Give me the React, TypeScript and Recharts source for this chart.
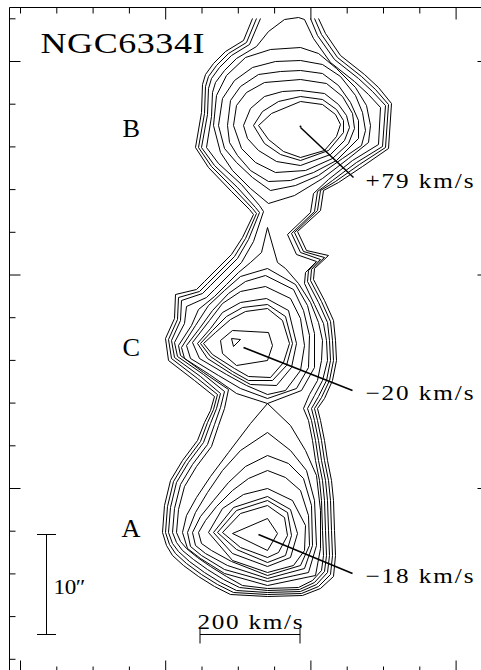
import React from 'react';
import { ScatterChart, Scatter, XAxis, YAxis } from 'recharts';

// Position–velocity contour map of NGC6334I.
// x: velocity (km/s), y: offset along the slit (arcsec).
type P = [number, number];

const xTicks = [-480, -407.4, -334.8, -262.2, -189.6, -117, -44.4, 28.2, 100.8, 173.4, 246, 318.6, 391.2];
const xMajorBottom = [-480, -189.6, 100.8, 391.2];
const xMajorTop = [-189.6, 100.8, 391.2];
const yTicks = [58.17, 53.9, 49.63, 45.36, 41.09, 36.82, 32.55, 28.28, 24.01, 19.74, 15.47, 11.2, 6.93, 2.66, -1.61, -5.88];
const yMajor = [53.9, 32.55, 11.2];

// Outer envelope contours (open where they leave the map at the top)
const envelope1: P[] = [[-16,58.2],[-34,56],[-70,54.9],[-94,53.7],[-110,52.6],[-116,51.6],[-118,48.8],[-130,45.3],[-104,43.3],[-58,40.9],[-22,39.1],[-14,38.6],[-36,36.3],[-58,34.6],[-112,31.9],[-128,31.1],[-170,30.6],[-172,28.2],[-190,26.2],[-184,24],[-132,22],[-92,20.4],[-100,19],[-112,17.8],[-126,16],[-156,14],[-180,12],[-192,9.5],[-196,6.8],[-188,5.5],[-176,4.5],[-154,3.5],[-124,2.4],[-92,1.4],[-60,0.6],[14,0.4],[84,0.5],[120,1.2],[146,2.4],[150,4.5],[148,7],[146,10],[142,12],[134,14],[128,16],[120,18],[114,19.2],[128,20.2],[144,22],[152,24],[150,26],[146,28],[128,30],[106,32.1],[108,33.2],[136,34.5],[92,35],[74,36.9],[120,39],[126,41],[156,41.8],[204,43.4],[256,45.2],[262,49.7],[236,51.3],[208,52.6],[160,54.5],[130,56.7],[116,58.2]];
const envelope2: P[] = [[-8,58.2],[-28,55.8],[-64,54.7],[-88,53.5],[-104,52.4],[-110,51.4],[-112,48.7],[-124,45.3],[-98,43.4],[-52,41.1],[-16,39.2],[-8,38.7],[-30,36.2],[-52,34.4],[-106,31.7],[-122,30.9],[-164,30.3],[-166,28.1],[-184,26.1],[-178,24.2],[-126,22.2],[-86,20.6],[-94,19.1],[-106,17.8],[-120,15.9],[-150,13.9],[-174,11.9],[-186,9.4],[-190,6.8],[-182,5.6],[-170,4.7],[-148,3.7],[-118,2.6],[-86,1.6],[-54,0.8],[14,0.6],[82,0.7],[116,1.4],[140,2.6],[144,4.5],[142,7],[140,10],[136,12],[128,14],[122,16],[114,18],[108,19.2],[122,20.3],[138,22],[146,24],[144,26],[140,27.9],[122,29.9],[100,32],[102,33.1],[128,34.3],[86,34.9],[68,36.8],[114,39],[120,41],[150,41.9],[198,43.6],[250,45.3],[256,49.6],[230,51.1],[202,52.4],[154,54.3],[122,56.6],[108,58.2]];
const envelope3: P[] = [[0,58.2],[-22,55.6],[-58,54.5],[-82,53.3],[-98,52.2],[-104,51.2],[-106,48.6],[-118,45.3],[-92,43.5],[-46,41.3],[-10,39.3],[-2,38.8],[-24,36.1],[-46,34.2],[-100,31.5],[-116,30.7],[-158,30],[-160,28],[-178,26],[-172,24.3],[-120,22.4],[-80,20.7],[-88,19.2],[-100,17.7],[-114,15.8],[-144,13.8],[-168,11.8],[-180,9.3],[-184,6.8],[-176,5.7],[-164,4.9],[-142,3.9],[-112,2.8],[-80,1.8],[-48,1],[14,0.8],[80,0.9],[112,1.6],[134,2.8],[138,4.5],[136,7],[134,10],[130,12],[122,14],[116,16],[108,18],[102,19.2],[116,20.4],[132,22],[140,24],[138,26],[134,27.8],[116,29.8],[94,31.9],[96,33],[120,34.1],[80,34.8],[62,36.7],[108,38.9],[114,40.9],[144,42],[192,43.8],[244,45.4],[250,49.5],[224,50.9],[196,52.2],[148,54.1],[114,56.5],[100,58.2]];
const envelope4: P[] = [[88,58.1],[76,58.3],[48,58.1],[16,56.9],[-8,55.4],[-48,54.2],[-72,53],[-90,51.8],[-96,50.8],[-98,48.4],[-108,45.3],[-84,43.7],[-38,41.6],[-2,39.5],[6,38.9],[-14,35.9],[-38,33.8],[-92,31.1],[-108,30.3],[-148,29.4],[-152,27.7],[-172,25.8],[-166,24.4],[-114,22.6],[-72,20.9],[-80,19.3],[-92,17.6],[-106,15.6],[-136,13.6],[-160,11.6],[-172,9.2],[-176,6.8],[-168,5.8],[-156,5],[-134,4.1],[-106,3.1],[-74,2.1],[-42,1.3],[14,1],[78,1.1],[108,1.8],[128,2.9],[132,4.5],[130,7],[128,10],[124,12],[116,14],[110,16],[102,18],[94,19.2],[108,20.5],[124,22],[134,24],[132,26],[126,27.7],[108,29.6],[88,31.7],[90,32.8],[112,33.9],[72,34.6],[54,36.6],[100,38.8],[106,40.7],[136,42.1],[184,44],[236,45.6],[240,49.3],[216,50.6],[188,51.9],[140,53.8],[106,56.2],[88,58.1]];

// Contour enclosing C and A, with the narrow spike towards B
const spikeLoop: P[] = [[14,37.3],[2,34.8],[-20,33.8],[-44,32.8],[-68,31.6],[-92,30.4],[-124,29.1],[-138,27.5],[-164,25.5],[-160,24.5],[-114,22.8],[-64,21.1],[-72,19.2],[-84,17.5],[-98,15.4],[-128,13.4],[-152,11.4],[-164,9.1],[-168,6.8],[-160,5.9],[-148,5.2],[-126,4.3],[-100,3.4],[-68,2.4],[-36,1.5],[14,1.2],[76,1.3],[104,2],[122,3],[126,4.5],[124,7],[122,10],[118,12],[110,14],[104,16],[96,18],[86,19.2],[98,20.6],[114,22],[122,24],[124,26],[116,27.8],[100,29.8],[76,31.7],[50,33.2],[34,33.8],[14,37.3]];

// Source B (+79 km/s)
const loopsB: P[][] = [
  [[-4,47.5],[22,48.7],[80,49.9],[124,49.6],[150,48.6],[160,47.6],[152,46.4],[128,45],[80,44.3],[46,44.9],[16,46.1],[-4,47.5]],
  [[-14,47.5],[4,48.9],[36,49.9],[80,50.4],[124,50.1],[152,49.1],[166,48],[166,46.8],[136,45],[80,44],[40,44.6],[8,45.7],[-14,47.5]],
  [[-34,47.5],[-20,49.2],[8,50.4],[44,50.9],[80,51],[128,50.7],[156,49.6],[172,48.5],[178,47.3],[168,46],[140,44.6],[80,43.5],[32,43.9],[-4,45],[-26,46.2],[-34,47.5]],
  [[-54,47.5],[-48,49.5],[-28,50.8],[8,51.8],[80,52.1],[132,51.7],[164,50.4],[184,48.7],[188,47.2],[176,45.7],[144,44.2],[90,43],[30,42.8],[-10,43.8],[-38,45.2],[-54,47.5]],
  [[-66,47.5],[-60,50],[-40,51.4],[-4,52.6],[40,52.9],[80,53],[124,52.7],[156,51.5],[180,49.8],[196,48],[196,46.2],[152,44],[106,42.8],[60,42],[16,41.9],[-20,43],[-46,44.5],[-62,45.8],[-66,47.5]],
  [[-84,47.5],[-76,50.2],[-52,52],[-16,53.3],[30,53.9],[80,54],[124,53.6],[160,52.4],[190,50.5],[204,48.8],[210,47],[202,45.5],[164,44.2],[116,42.5],[70,41.5],[20,41],[-16,42.3],[-48,43.8],[-72,45.2],[-84,47.5]],
  [[-94,47.5],[-88,50.5],[-68,52.5],[-30,54.3],[20,55.1],[80,55.3],[116,54.7],[152,53.2],[190,51.3],[212,49.5],[220,47.5],[216,45.8],[176,44.2],[124,42.2],[68,40.5],[16,39.7],[-20,41.2],[-56,43],[-80,44.8],[-94,47.5]],
];

// Source C (-20 km/s)
const loopsC: P[][] = [
  [[-58,26.2],[-40,26.1],[-54,25.4],[-58,26.2]],
  [[-80,26],[-56,27],[16,26.8],[24,25.5],[14,24],[-48,23.5],[-76,24.7],[-80,26]],
  [[-114,25.7],[-90,26.8],[-60,28.1],[-30,28.9],[14,29.2],[44,28],[58,25.7],[46,23.8],[20,22.3],[-24,22.4],[-52,23.2],[-96,24.6],[-114,25.7]],
  [[-120,25.7],[-96,27],[-68,28.4],[-36,29.3],[14,29.6],[50,28.4],[64,25.7],[52,23.5],[24,22],[-24,22],[-56,22.9],[-100,24.4],[-120,25.7]],
  [[-126,25.7],[-100,27.2],[-76,28.8],[-40,29.8],[12,30.2],[56,29],[72,25.7],[62,23.3],[32,21.5],[-20,21.6],[-56,22.6],[-106,24.2],[-126,25.7]],
  [[-136,25.8],[-102,28],[-76,29.7],[-40,30.9],[10,31.4],[60,30.2],[80,28.2],[88,25.5],[80,23],[50,21],[14,20.6],[-28,21.5],[-68,22.6],[-122,24.2],[-136,25.8]],
  [[-148,25.5],[-122,27.2],[-96,29],[-64,30.7],[-30,31.9],[10,32.5],[66,31.1],[86,29],[98,26.5],[96,23.3],[72,21.2],[14,20.2],[-40,21.2],[-84,22.5],[-140,24.2],[-148,25.5]],
  [[-158,25.3],[-130,27.5],[-104,29.5],[-72,31],[-40,32.4],[14,33.2],[70,31.6],[94,29.5],[108,26.7],[108,23.3],[82,21],[14,19.7],[-48,20.7],[-102,22.6],[-152,24.2],[-158,25.3]],
];

// Source A (-18 km/s)
const loopsA: P[][] = [
  [[-56,6.7],[14,8.2],[34,6.7],[14,5],[-56,6.7]],
  [[-76,6.8],[-40,8.7],[14,9.5],[48,8.3],[54,6.5],[36,4.8],[14,4.3],[-40,5.3],[-76,6.8]],
  [[-86,6.8],[-48,9],[14,10],[54,8.8],[62,6.5],[50,4.5],[14,3.8],[-48,5.1],[-86,6.8]],
  [[-94,6.8],[-54,9.3],[14,10.4],[60,9.1],[74,6.7],[60,4.3],[14,3.4],[-56,4.7],[-94,6.8]],
  [[-104,6.8],[-76,9.2],[-34,10.6],[14,11.2],[64,10],[90,7.5],[88,5],[66,3.5],[14,2.8],[-56,4],[-104,6.8]],
  [[-124,6.8],[-110,8],[-88,9.4],[-56,11],[-24,12.2],[14,13],[50,12.3],[80,11],[96,8.5],[98,5.5],[80,3.5],[14,2.5],[-58,3.9],[-98,5],[-118,5.7],[-124,6.8]],
  [[-136,6.8],[-120,8.4],[-94,10],[-64,11.8],[-30,13.4],[14,14.5],[56,13.7],[86,12.2],[102,9.5],[104,5.5],[88,3.2],[14,2.2],[-66,3.5],[-110,4.7],[-130,5.5],[-136,6.8]],
  [[-146,6.8],[-130,8.8],[-106,10.8],[-76,13],[-40,15],[14,16.8],[60,15],[92,13],[108,10],[112,5.5],[96,2.8],[14,1.9],[-72,3.1],[-118,4.5],[-140,5.4],[-146,6.8]],
  [[-156,6.8],[-148,8.5],[-128,10.3],[-100,12.4],[-64,14.8],[-20,17.7],[14,19.7],[60,17.5],[90,15],[112,12.5],[120,9],[120,5.2],[110,2.5],[14,1.5],[-72,2.7],[-120,4.2],[-146,5.2],[-156,6.8]],
];

const contours: P[][] = [envelope1, envelope2, envelope3, envelope4, spikeLoop, ...loopsB, ...loopsC, ...loopsA];

// Pointers from each peak to its velocity label
const pointerB: P[] = [[80, 47.3], [186, 42.3]];
const pointerC: P[] = [[-34, 25.3], [184, 21]];
const pointerA: P[] = [[-4, 6.6], [184, 2.7]];
const peakB: P[] = [[80, 47.4]];

const sourceNames = ['B', 'C', 'A'];
const sourceNameAnchors: P[] = [[-276, 46.4], [-276, 24.5], [-278, 6.4]];
const velocityLabels = ['+79 km/s', '\u221220 km/s', '\u221218 km/s'];
const velocityLabelAnchors: P[] = [[210, 41.3], [210, 20.1], [210, 1.8]];
const titleText = 'NGC6334I';
const titleAnchor: P = [-440, 54.8];

// Scale bars: 10 arcsec and 200 km/s
const offsetBar: P[] = [[-428, -3.4], [-428, 6.6]];
const offsetBarCaps: P[][] = [[[-447, 6.6], [-409, 6.6]], [[-447, -3.4], [-409, -3.4]]];
const offsetBarLabel = '10\u2033';
const offsetBarLabelAnchor: P = [-414, 0.7];
const velocityBar: P[] = [[-121, -3.4], [79, -3.4]];
const velocityBarEnds: P[][] = [[[-121, -2.8], [-121, -4.3]], [[79, -2.8], [79, -4.3]]];
const velocityBarLabel = '200 km/s';
const velocityBarLabelAnchor: P = [-126, -2.8];

const rows = (pts: P[]) => pts.map(([x, y]) => ({ x, y }));
const FONT = '"Liberation Serif", "Times New Roman", serif';
const Empty = () => <g />;

const BottomTick = (p: any) => {
  const len = xMajorBottom.includes(p.payload.value) ? 12 : 6;
  return <line x1={p.x} y1={p.y} x2={p.x} y2={p.y - len} stroke="#000" strokeWidth={1} />;
};
const TopTick = (p: any) => {
  const len = xMajorTop.includes(p.payload.value) ? 12 : 6;
  return <line x1={p.x} y1={p.y} x2={p.x} y2={p.y + len} stroke="#000" strokeWidth={1} />;
};
const LeftTick = (p: any) => {
  const len = yMajor.includes(p.payload.value) ? 11 : 6;
  return <line x1={p.x} y1={p.y} x2={p.x + len} y2={p.y} stroke="#000" strokeWidth={1} />;
};
const RightTick = (p: any) => {
  const len = yMajor.includes(p.payload.value) ? 11 : 6;
  return <line x1={p.x} y1={p.y} x2={p.x - len} y2={p.y} stroke="#000" strokeWidth={1} />;
};

const lineStyle = { stroke: '#000', strokeWidth: 1, fill: 'none' };
const pointerStyle = { stroke: '#000', strokeWidth: 1.5, fill: 'none' };

// Text drawn at a data anchor, widened horizontally by `sx`, stretched to `length` px.
function textShape(text: string, size: number, sx = 1, length?: number) {
  return (p: any) => (
    <text
      transform={`translate(${p.cx},${p.cy}) scale(${sx},1)`}
      x={0}
      y={0}
      fontFamily={FONT}
      fontSize={size}
      fill="#000"
      textLength={length ? length / sx : undefined}
      lengthAdjust={length ? 'spacing' : undefined}
    >
      {text}
    </text>
  );
}

export default function App() {
  return (
    <div style={{ position: 'absolute', left: 0, top: 0, width: 481, height: 670, overflow: 'hidden', background: '#fff' }}>
      <ScatterChart width={500} height={690} margin={{ top: 2.5, right: 6.5, bottom: 12.5, left: 4.5 }}>
        <XAxis type="number" dataKey="x" domain={[-502, 456]} allowDataOverflow ticks={xTicks} interval={0}
          height={5} tickSize={0} tickMargin={0} tickLine={false} tick={BottomTick} axisLine={{ stroke: '#000', strokeWidth: 1 }} />
        <XAxis xAxisId="top" orientation="top" type="number" dataKey="x" domain={[-502, 456]} allowDataOverflow ticks={xTicks} interval={0}
          height={5} tickSize={0} tickMargin={0} tickLine={false} tick={TopTick} axisLine={{ stroke: '#000', strokeWidth: 1 }} />
        <YAxis type="number" dataKey="y" domain={[-7.2, 59.3]} allowDataOverflow ticks={yTicks} interval={0}
          width={5} tickSize={0} tickMargin={0} tickLine={false} tick={LeftTick} axisLine={{ stroke: '#000', strokeWidth: 1 }} />
        <YAxis yAxisId="right" orientation="right" type="number" dataKey="y" domain={[-7.2, 59.3]} allowDataOverflow ticks={yTicks} interval={0}
          width={5} tickSize={0} tickMargin={0} tickLine={false} tick={RightTick} axisLine={{ stroke: '#000', strokeWidth: 1 }} />

        {contours.map((c, i) => (
          <Scatter key={`c${i}`} data={rows(c)} line={lineStyle} lineType="joint" shape={Empty} isAnimationActive={false} />
        ))}

        {[pointerB, pointerC, pointerA].map((c, i) => (
          <Scatter key={`p${i}`} data={rows(c)} line={pointerStyle} lineType="joint" shape={Empty} isAnimationActive={false} />
        ))}
        <Scatter data={rows(peakB)} shape={(p: any) => <circle cx={p.cx} cy={p.cy} r={1} fill="#000" />} isAnimationActive={false} />

        {[offsetBar, ...offsetBarCaps, velocityBar, ...velocityBarEnds].map((c, i) => (
          <Scatter key={`s${i}`} data={rows(c)} line={lineStyle} lineType="joint" shape={Empty} isAnimationActive={false} />
        ))}

        <Scatter data={rows([titleAnchor])} shape={textShape(titleText, 30, 1.2, 164)} isAnimationActive={false} />
        {sourceNames.map((n, i) => (
          <Scatter key={`n${i}`} data={rows([sourceNameAnchors[i]])} shape={textShape(n, 25, 1.05)} isAnimationActive={false} />
        ))}
        {velocityLabels.map((t, i) => (
          <Scatter key={`v${i}`} data={rows([velocityLabelAnchors[i]])} shape={textShape(t, 21, 1.2, 108)} isAnimationActive={false} />
        ))}
        <Scatter data={rows([offsetBarLabelAnchor])} shape={textShape(offsetBarLabel, 21, 1.1, 32)} isAnimationActive={false} />
        <Scatter data={rows([velocityBarLabelAnchor])} shape={textShape(velocityBarLabel, 21, 1.2, 105)} isAnimationActive={false} />
      </ScatterChart>
    </div>
  );
}
